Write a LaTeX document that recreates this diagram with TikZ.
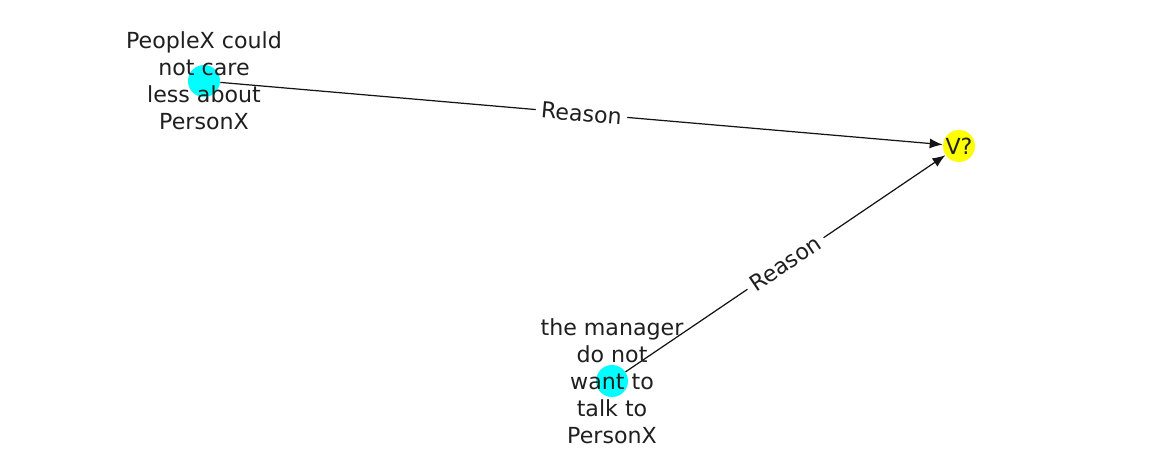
\documentclass[tikz,border=0pt]{standalone}
\usepackage{fontspec}
\setmainfont{DejaVu Sans}
\usetikzlibrary{arrows.meta}

\definecolor{nodecyan}{RGB}{0,255,255}
\definecolor{nodeyellow}{RGB}{255,255,0}
\tikzset{
  dot/.style={circle,inner sep=0pt,minimum size=0.64cm},
  lbl/.style={align=center,text=black!88,font=\fontsize{12.6}{15.4}\selectfont},
  edgelbl/.style={fill=white,inner sep=0.11cm,text=black!88,font=\fontsize{12.6}{15.4}\selectfont}
}

\begin{document}
\begin{tikzpicture}[x=0.02cm,y=-0.02cm]
            \useasboundingbox (0,0) rectangle (1162,462);

            \node[dot,fill=nodecyan] (people) at (204,81) {};
            \node[dot,fill=nodecyan] (manager) at (612,381) {};
            \node[dot,fill=nodeyellow] (v) at (959,146) {};

            \draw[-{Latex[length=0.26cm,width=0.2cm]},line width=0.7pt,black!92] (people) -- node[edgelbl,sloped] {Reason} (v);
            \draw[-{Latex[length=0.26cm,width=0.2cm]},line width=0.7pt,black!92] (manager) -- node[edgelbl,sloped] {Reason} (v);

            \node[lbl] (peopletxt) at (people) {PeopleX could\\not care\\less about\\PersonX};
            \node[lbl] (managertxt) at (manager) {the manager\\do not\\want to\\talk to\\PersonX};
            \node[lbl] (vtxt) at (v) {V?};
        \end{tikzpicture}
\end{document}
